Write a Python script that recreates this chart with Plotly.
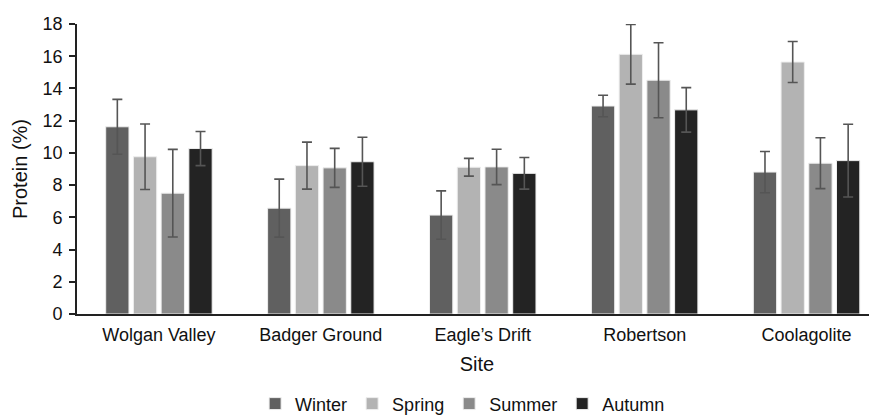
import plotly.graph_objects as go

sites = ["Wolgan Valley", "Badger Ground", "Eagle\u2019s Drift", "Robertson", "Coolagolite"]
seasons = ["Winter", "Spring", "Summer", "Autumn"]

winter = [11.62, 6.57, 6.14, 12.91, 8.81]
winter_err = [1.70, 1.80, 1.50, 0.67, 1.28]
spring = [9.76, 9.21, 9.11, 16.12, 15.64]
spring_err = [2.03, 1.46, 0.55, 1.85, 1.27]
summer = [7.50, 9.07, 9.13, 14.51, 9.36]
summer_err = [2.72, 1.21, 1.10, 2.33, 1.58]
autumn = [10.27, 9.45, 8.73, 12.67, 9.52]
autumn_err = [1.06, 1.52, 0.98, 1.38, 2.26]

y_ticks = [0, 2, 4, 6, 8, 10, 12, 14, 16, 18]

colors = ["#606060", "#b3b3b3", "#8a8a8a", "#232323"]
series = [winter, spring, summer, autumn]
errors = [winter_err, spring_err, summer_err, autumn_err]

FONT = "Liberation Sans, Arial, Helvetica, sans-serif"

fig = go.Figure()
for name, vals, errs, col in zip(seasons, series, errors, colors):
    fig.add_trace(go.Bar(
        name=name, x=sites, y=vals,
        marker=dict(color=col, line=dict(color="#eeeeee", width=1)),
        error_y=dict(type="data", array=errs, visible=True,
                     color="#555555", thickness=1.6, width=5),
    ))

fig.update_layout(
    width=869, height=415,
    margin=dict(l=69, r=0, t=16, b=102),
    paper_bgcolor="white", plot_bgcolor="white",
    barmode="group", bargap=0.315, bargroupgap=0.16,
    font=dict(family=FONT, size=18, color="#111111"),
    showlegend=True,
    legend=dict(orientation="h", x=0.482, xanchor="center", y=-0.31, yanchor="middle",
                font=dict(size=18), itemwidth=30),
)
fig.update_xaxes(
    range=[-0.506, 4.435], showline=True, linecolor="#222222", linewidth=1.6,
    ticks="", showgrid=False, zeroline=False, ticklabelstandoff=4, automargin=False,
    title=dict(text="Site", font=dict(size=20), standoff=13),
)
fig.update_yaxes(
    range=[0, 18], tickvals=y_ticks, showline=True, linecolor="#222222", linewidth=1.6,
    ticks="outside", ticklen=6, tickwidth=1.6, tickcolor="#222222",
    showgrid=False, zeroline=False, ticklabelstandoff=3, automargin=False,
    title=dict(text="Protein (%)", font=dict(size=20), standoff=10),
)

fig.write_html("out.html")
